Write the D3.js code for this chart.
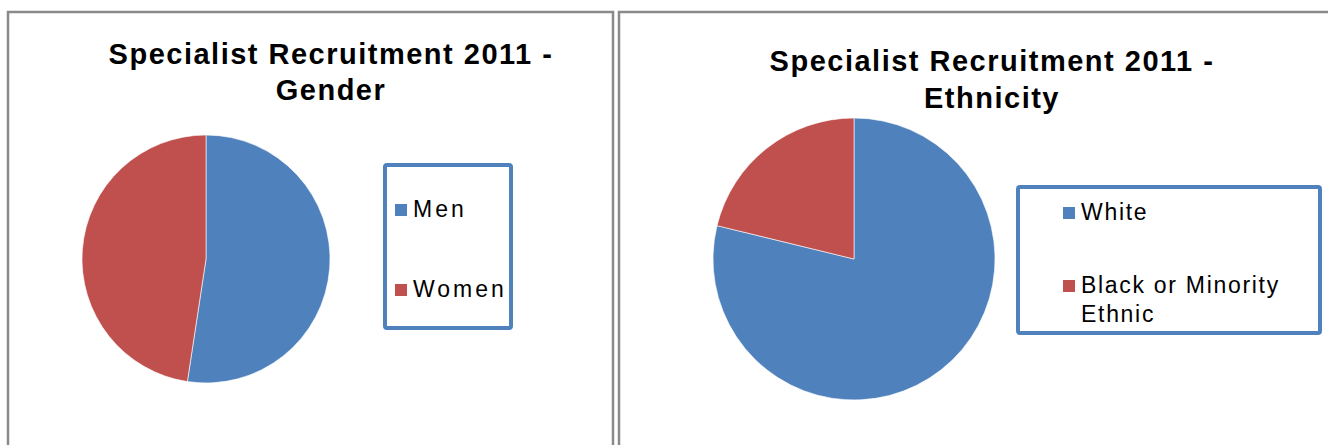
<!DOCTYPE html>
<html>
<head>
<meta charset="utf-8">
<script src="https://cdn.jsdelivr.net/npm/d3@7"></script>
<style>
  body { margin: 0; background: #fff; }
  svg { display: block; font-family: "Liberation Sans", Arial, sans-serif; }
</style>
</head>
<body>
<svg id="root" width="1328" height="445"></svg>
<script>
// Data
const genderLabels = ["Men", "Women"];
const genderValues = [52.4, 47.6];
const ethnicLabels = ["White", "Black or Minority Ethnic"];
const ethnicValues = [78.8, 21.2];
const sliceColors = ["#4f81bd", "#c0504d"];

const svg = d3.select("#root");

//Panel frames
const panels = [
  {x: 8, y: 12, w: 605, h: 445},
  {x: 619, y: 12, w: 720, h: 445}
];
svg.selectAll("rect.frame")
  .data(panels)
  .enter()
    .append("rect")
    .classed("frame", true)
    .attr("x", d => d.x)
    .attr("y", d => d.y)
    .attr("width", d => d.w)
    .attr("height", d => d.h)
    .attr("fill", "none")
    .attr("stroke", "#8a8a8a")
    .attr("stroke-width", 2.5);

drawPie({
  title: ["Specialist Recruitment 2011 -", "Gender"],
  titleX: 331, titleY: 64, lineGap: 36,
  labels: genderLabels, values: genderValues,
  cx: 206, cy: 259, r: 124,
  legend: {x: 385, y: 165, w: 126, h: 163, keyX: 395, spacing: 3, items: [[217], [297]]}
});

drawPie({
  title: ["Specialist Recruitment 2011 -", "Ethnicity"],
  titleX: 992, titleY: 71, lineGap: 37,
  labels: ethnicLabels, values: ethnicValues,
  cx: 854, cy: 259, r: 141,
  legend: {x: 1018, y: 187, w: 302, h: 146, keyX: 1063, spacing: 1.7, items: [[220], [293, 322]]}
});

function drawPie(cfg) {
  let g = svg.append("g");

  //Title
  let title = g.append("text")
    .attr("x", cfg.titleX)
    .attr("y", cfg.titleY)
    .attr("text-anchor", "middle")
    .attr("font-size", "29px")
    .attr("font-weight", "bold")
    .attr("letter-spacing", "1.5px")
    .attr("fill", "#000");
  cfg.title.forEach((line, i) => {
    title.append("tspan")
      .attr("x", cfg.titleX)
      .attr("dy", i === 0 ? 0 : cfg.lineGap)
      .text(line);
  });

  //Slices, starting at 12 o'clock going clockwise
  let pie = d3.pie().sort(null).value(d => d);
  let arc = d3.arc().innerRadius(0).outerRadius(cfg.r);
  let color = d3.scaleOrdinal().domain(cfg.labels).range(sliceColors);

  g.append("g")
    .attr("transform", `translate(${cfg.cx}, ${cfg.cy})`)
    .selectAll("path")
    .data(pie(cfg.values))
    .enter()
      .append("path")
      .attr("d", arc)
      .attr("fill", (_, i) => color(cfg.labels[i]))
      .attr("stroke", "#fff")
      .attr("stroke-width", 0.6);

  //Legend
  let lg = cfg.legend;
  g.append("rect")
    .attr("x", lg.x)
    .attr("y", lg.y)
    .attr("width", lg.w)
    .attr("height", lg.h)
    .attr("rx", 2)
    .attr("fill", "#fff")
    .attr("stroke", "#4f81bd")
    .attr("stroke-width", 4);

  cfg.labels.forEach((label, i) => {
    let ys = lg.items[i];
    g.append("rect")
      .attr("x", lg.keyX)
      .attr("y", ys[0] - 13)
      .attr("width", 12)
      .attr("height", 12)
      .attr("fill", color(label));
    //Long labels wrap onto a second line
    let words = ys.length > 1 ? [label.split(" ").slice(0, 3).join(" "), label.split(" ").slice(3).join(" ")] : [label];
    words.forEach((w, j) => {
      g.append("text")
        .attr("x", lg.keyX + 18)
        .attr("y", ys[j])
        .attr("font-size", "23px")
        .attr("letter-spacing", `${lg.spacing}px`)
        .attr("fill", "#000")
        .text(w);
    });
  });
}
</script>
</body>
</html>
